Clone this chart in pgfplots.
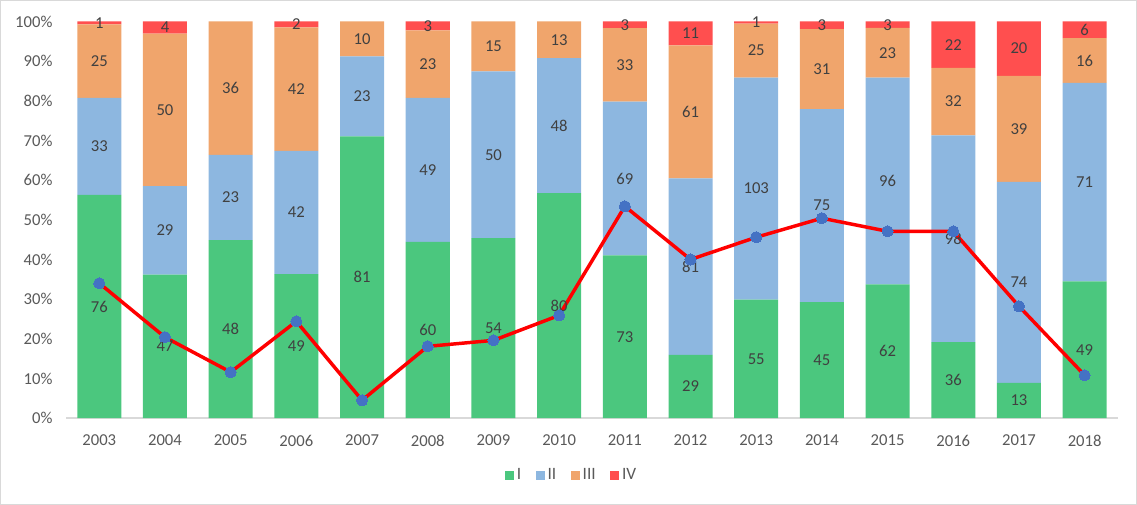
\documentclass[border=0pt]{standalone}
\usepackage{pgfplots}
\pgfplotsset{compat=1.18}
\usepackage{pgfplotstable}
\usepackage{fontspec}
\setmainfont{Carlito}

\definecolor{cI}{HTML}{4BC77E}
\definecolor{cII}{HTML}{8DB7E0}
\definecolor{cIII}{HTML}{F0A56C}
\definecolor{cIV}{HTML}{FF4F4F}
\definecolor{mk}{HTML}{4472C4}
\definecolor{tick}{HTML}{595959}
\definecolor{lab}{HTML}{404040}
\definecolor{frame}{HTML}{D9D9D9}

\pgfplotstableread{
X I II III IV
0 76 33 25 1
1 47 29 50 4
2 48 23 36 0
3 49 42 42 2
4 81 23 10 0
5 60 49 23 3
6 54 50 15 0
7 80 48 13 0
8 73 69 33 3
9 29 81 61 11
10 55 103 25 1
11 45 75 31 3
12 62 96 23 3
13 36 98 32 22
14 13 74 39 20
15 49 71 16 6
}\data

\pgfplotstableread{
X P
0 34.0
1 20.4
2 11.6
3 24.4
4 4.5
5 18.1
6 19.6
7 25.9
8 53.4
9 40.0
10 45.6
11 50.4
12 47.1
13 47.1
14 28.2
15 10.8
}\lined

\def\T{(\thisrow{I}+\thisrow{II}+\thisrow{III}+\thisrow{IV})}

\begin{document}
\begin{tikzpicture}
\begin{axis}[
  width=789pt, height=297.75pt, scale only axis,
  xmin=-0.5, xmax=15.5, ymin=0, ymax=100,
  ybar stacked, bar width=0.67,
  axis x line*=bottom, axis y line*=left,
  x axis line style={draw=frame, line width=1pt},
  y axis line style={draw=none},
  major tick length=0pt,
  xtick={0,...,15},
  xticklabels={2003,2004,2005,2006,2007,2008,2009,2010,2011,2012,2013,2014,2015,2016,2017,2018},
  ytick={0,10,...,100},
  yticklabel={\pgfmathprintnumber{\tick}\%},
  /pgf/number format/assume math mode=true,
  tick label style={font=\fontsize{12.5}{14}\selectfont, text=tick},
  xticklabel style={yshift=-9pt},
  yticklabel style={xshift=-7pt},
  legend style={at={(0.481,-0.1436)}, anchor=center, draw=none, legend columns=4,
    font=\fontsize{13}{15}\selectfont, text=tick,
    /tikz/every even column/.append style={column sep=9pt}},
  legend image code/.code={\fill[#1] (0pt,-3.4pt) rectangle (6.8pt,3.4pt);},
]
\addplot[fill=cI, draw=none]
  table[x=X, y expr={100*\thisrow{I}/\T}] {\data};
\addlegendentry{I}
\addplot[fill=cII, draw=none]
  table[x=X, y expr={100*\thisrow{II}/\T}] {\data};
\addlegendentry{II}
\addplot[fill=cIII, draw=none]
  table[x=X, y expr={100*\thisrow{III}/\T}] {\data};
\addlegendentry{III}
\addplot[fill=cIV, draw=none]
  table[x=X, y expr={100*\thisrow{IV}/\T}] {\data};
\addlegendentry{IV}
\end{axis}
\begin{axis}[
  width=789pt, height=297.75pt, scale only axis,
  xmin=-0.5, xmax=15.5, ymin=0, ymax=100,
  hide axis,
  every node near coord/.append style={anchor=center, font=\fontsize{12.5}{14}\selectfont, text=lab},
]
% segment labels, placed at the middle of each segment
\addplot[draw=none, mark=none, point meta=explicit symbolic,
  nodes near coords={\ifnum\pgfplotspointmeta=0 \else\pgfplotspointmeta\fi}]
  table[x=X, y expr={100*(0.5*\thisrow{I})/\T}, meta=I] {\data};
\addplot[draw=none, mark=none, point meta=explicit symbolic,
  nodes near coords={\ifnum\pgfplotspointmeta=0 \else\pgfplotspointmeta\fi}]
  table[x=X, y expr={100*(\thisrow{I}+0.5*\thisrow{II})/\T}, meta=II] {\data};
\addplot[draw=none, mark=none, point meta=explicit symbolic,
  nodes near coords={\ifnum\pgfplotspointmeta=0 \else\pgfplotspointmeta\fi}]
  table[x=X, y expr={100*(\thisrow{I}+\thisrow{II}+0.5*\thisrow{III})/\T}, meta=III] {\data};
\addplot[draw=none, mark=none, point meta=explicit symbolic,
  nodes near coords={\ifnum\pgfplotspointmeta=0 \else\pgfplotspointmeta\fi}]
  table[x=X, y expr={100*(\thisrow{I}+\thisrow{II}+\thisrow{III}+0.5*\thisrow{IV})/\T}, meta=IV] {\data};
% share line
\addplot[color=red, line width=2.6pt, mark=*, mark size=4.2pt,
  mark options={solid, draw=mk, fill=mk, line width=0pt}]
  table[x=X, y=P] {\lined};
\end{axis}
\draw[frame, line width=0.75pt]
  ([xshift=-49.5pt,yshift=-64.5pt]current axis.south west) rectangle
  ([xshift=14.25pt,yshift=15.75pt]current axis.north east);
\end{tikzpicture}
\end{document}
